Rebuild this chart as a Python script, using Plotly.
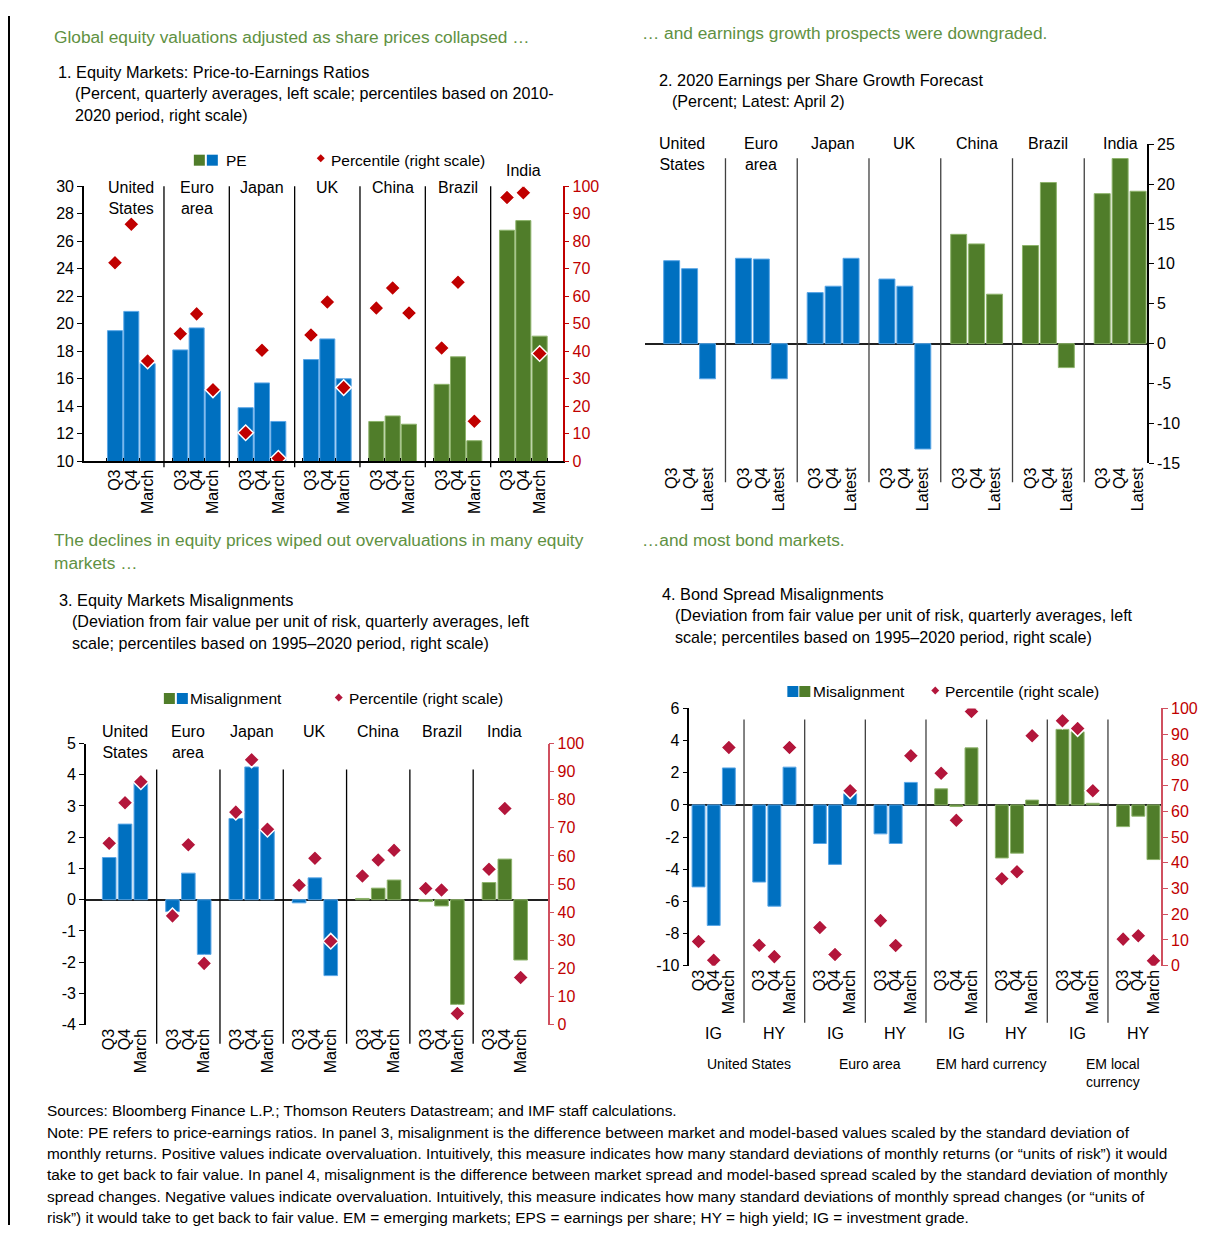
import plotly.graph_objects as go

W, H = 1218, 1242
# the page body keeps its default 8px margin, so the figure is drawn 16px smaller
FW, FH = W - 16, H - 16
# the captured page comes out slightly squeezed vertically; compensate
VS = 0.9856

BLUE = "#0070C0"
GREEN = "#507D2A"
RED = "#C00000"
CRIMSON = "#B3163B"
HEAD_GREEN = "#5F9142"
FONT = "Liberation Sans, Arial, sans-serif"

# ---- data -------------------------------------------------------------
equity_markets = ["United States", "Euro area", "Japan", "UK", "China", "Brazil", "India"]
equity_labels = ["United<br>States", "Euro<br>area", "Japan", "UK", "China", "Brazil", "India"]
emerging = ["China", "Brazil", "India"]
quarters = ["Q3", "Q4", "March"]
eps_quarters = ["Q3", "Q4", "Latest"]

# panel 1: PE ratio (left) and percentile (right)
pe_ratio = [19.5, 20.9, 17.1, 18.1, 19.7, 15.2, 13.9, 15.7, 12.9, 17.4, 18.9, 16.0,
            12.9, 13.3, 12.7, 15.6, 17.6, 11.5, 26.8, 27.5, 19.1]
pe_percentile = [72.2, 86.2, 36.5, 46.4, 53.6, 26.0, 10.4, 40.4, 1.1, 45.9, 57.9, 26.8,
                 55.7, 63.0, 53.9, 41.2, 65.1, 14.6, 95.9, 97.6, 39.2]

# panel 2: 2020 EPS growth forecast
eps_growth = [10.4, 9.4, -4.4, 10.7, 10.6, -4.4, 6.4, 7.2, 10.7, 8.1, 7.2, -13.2,
              13.7, 12.5, 6.2, 12.3, 20.2, -3.0, 18.8, 23.2, 19.1]

# panel 3: equity misalignment
equity_misalignment = [1.35, 2.42, 3.8, -0.38, 0.85, -1.75, 2.6, 4.25, 2.2, -0.1, 0.7, -2.43,
                       0.04, 0.37, 0.63, -0.06, -0.2, -3.35, 0.55, 1.3, -1.93]
equity_percentile = [64.5, 78.9, 86.4, 38.7, 64.0, 21.8, 75.6, 94.2, 69.5, 49.6, 59.2, 29.7,
                     52.9, 58.6, 62.0, 48.4, 47.9, 4.0, 55.3, 76.9, 16.8]

# panel 4: bond spread misalignment
bond_markets = ["United States", "Euro area", "EM hard currency", "EM local currency"]
bond_market_labels = ["United States", "Euro area", "EM hard currency", "EM local<br>currency"]
bond_segments = ["IG", "HY"]
bond_misalignment = [-5.1, -7.5, 2.3, -4.8, -6.3, 2.35, -2.4, -3.7, 0.7, -1.8, -2.4, 1.4,
                     1.0, -0.1, 3.55, -3.3, -3.0, 0.3, 4.7, 4.55, 0.1, -1.35, -0.7, -3.4]
bond_percentile = [9.4, 2.1, 84.8, 7.9, 3.5, 84.8, 14.8, 4.3, 68.0, 17.5, 7.8, 81.6,
                   74.8, 56.5, 98.8, 33.8, 36.5, 89.4, 95.2, 92.2, 68.0, 10.3, 11.6, 1.9]

# left-scale tick values (labels use a plain hyphen for negatives)
eps_ticks = [-15, -10, -5, 0, 5, 10, 15, 20, 25]
eq_mis_ticks = [-4, -3, -2, -1, 0, 1, 2, 3, 4, 5]
bond_ticks = [-10, -8, -6, -4, -2, 0, 2, 4, 6]

notes = [
    "Sources: Bloomberg Finance L.P.; Thomson Reuters Datastream; and IMF staff calculations.",
    "Note: PE refers to price-earnings ratios. In panel 3, misalignment is the difference between market and model-based values scaled by the standard deviation of",
    "monthly returns. Positive values indicate overvaluation. Intuitively, this measure indicates how many standard deviations of monthly returns (or \u201cunits of risk\u201d) it would",
    "take to get back to fair value. In panel 4, misalignment is the difference between market spread and model-based spread scaled by the standard deviation of monthly",
    "spread changes. Negative values indicate overvaluation. Intuitively, this measure indicates how many standard deviations of monthly spread changes (or \u201cunits of",
    "risk\u201d) it would take to get back to fair value. EM = emerging markets; EPS = earnings per share; HY = high yield; IG = investment grade.",
]


def px(x):
    return (x - 8) / FW


def py(y):
    return 1 - ((y - 8) / VS - 8) / FH


def build_axis(groups, periods):
    cats, bars, ticks, gaps, mids = [], [], [], [], []
    for i, g in enumerate(groups):
        for p in periods:
            cats.append(f"{g}|{p}")
            bars.append(f"{g}|{p}")
            ticks.append(p)
        mids.append(len(cats) - 2)
        if i < len(groups) - 1:
            cats.append(f"{g}|gap")
            gaps.append(len(cats) - 1)
    return cats, bars, ticks, gaps, mids


eq_cats, eq_bars, eq_ticks, eq_gaps, eq_mids = build_axis(equity_markets, quarters)
eps_cats, eps_bars, eps_ticks_x, eps_gaps, eps_mids = build_axis(equity_markets, eps_quarters)
bond_groups = [f"{m}|{s}" for m in bond_markets for s in bond_segments]
bd_cats, bd_bars, bd_ticks, bd_gaps, bd_mids = build_axis(bond_groups, quarters)

eq_colors = [GREEN if m in emerging else BLUE for m in equity_markets for _ in quarters]
bd_colors = [GREEN if m.startswith("EM") else BLUE for m in bond_markets
             for _ in bond_segments for _ in quarters]


def edge(colors):
    return ["#8DB36B" if c == GREEN else "#5AA6E6" for c in colors]


fig = go.Figure()

# panel 1
fig.add_trace(go.Bar(x=eq_bars, y=pe_ratio, marker=dict(color=eq_colors, line=dict(color=edge(eq_colors), width=1)),
                     width=0.92, xaxis="x", yaxis="y"))
fig.add_trace(go.Scatter(x=eq_bars, y=pe_percentile, mode="markers", xaxis="x", yaxis="y2",
                         marker=dict(symbol="diamond", size=12, color=RED, line=dict(color="white", width=1.5))))
# panel 2
fig.add_trace(go.Bar(x=eps_bars, y=eps_growth, marker=dict(color=eq_colors, line=dict(color=edge(eq_colors), width=1)),
                     width=0.89, xaxis="x2", yaxis="y3"))
# panel 3
fig.add_trace(go.Bar(x=eq_bars, y=equity_misalignment, marker=dict(color=eq_colors, line=dict(color=edge(eq_colors), width=1)),
                     width=0.86, xaxis="x3", yaxis="y4"))
fig.add_trace(go.Scatter(x=eq_bars, y=equity_percentile, mode="markers", xaxis="x3", yaxis="y5",
                         marker=dict(symbol="diamond", size=12, color=CRIMSON, line=dict(color="white", width=1.5))))
# panel 4
fig.add_trace(go.Bar(x=bd_bars, y=bond_misalignment, marker=dict(color=bd_colors, line=dict(color=edge(bd_colors), width=1)),
                     width=0.85, xaxis="x4", yaxis="y6"))
fig.add_trace(go.Scatter(x=bd_bars, y=bond_percentile, mode="markers", xaxis="x4", yaxis="y7",
                         marker=dict(symbol="diamond", size=12, color=CRIMSON, line=dict(color="white", width=1.5))))


def cat_axis(domain, anchor, cats, bars, ticks, rng, line=False):
    d = dict(domain=domain, anchor=anchor, type="category", categoryorder="array",
             categoryarray=cats, range=rng, tickmode="array", tickvals=bars, ticktext=ticks,
             tickangle=-90, showgrid=False, zeroline=False, showline=line, linecolor="black",
             linewidth=1.5, ticks="", tickfont=dict(size=16, color="black"), fixedrange=True)
    if line:
        d.update(ticks="inside", tickson="boundaries", ticklen=4, tickcolor="black")
    return d


def val_axis(anchor, rng, dtick, domain=None, side="left", color="black", label_color=None,
             overlay=None, zero=False, tickvals=None):
    d = dict(anchor=anchor, range=rng, dtick=dtick, side=side, showgrid=False, zeroline=zero,
             zerolinecolor="#202020", zerolinewidth=1.8, showline=True, linecolor=color,
             linewidth=1.5, ticks="outside", ticklen=5, tickcolor=color,
             tickfont=dict(size=16, color=label_color or color))
    if tickvals is not None:
        d.update(tickmode="array", tickvals=tickvals, ticktext=[str(v) for v in tickvals])
    if overlay:
        d["overlaying"] = overlay
    else:
        d["domain"] = domain
    return d


p1y = [py(461), py(186)]
p2y = [py(463), py(144)]
p3y = [py(1024), py(743)]
p4y = [py(965), py(708)]

fig.update_layout(
    xaxis=cat_axis([px(84), px(563)], "y", eq_cats, eq_bars, eq_ticks, [-1.9, 27.4], line=True),
    yaxis=val_axis("x", [10, 30], 2, domain=p1y),
    yaxis2=val_axis("x", [0, 100], 10, side="right", color=RED, overlay="y"),
    xaxis2=cat_axis([px(646), px(1148)], "y3", eps_cats, eps_bars, eps_ticks_x, [-1.46, 26.5]),
    yaxis3=val_axis("x2", [-15, 25], 5, domain=p2y, side="right", zero=True, tickvals=eps_ticks),
    xaxis3=cat_axis([px(86), px(548)], "y4", eq_cats, eq_bars, eq_ticks, [-1.47, 27.7]),
    yaxis4=val_axis("x3", [-4, 5], 1, domain=p3y, zero=True, tickvals=eq_mis_ticks),
    yaxis5=val_axis("x3", [0, 100], 10, side="right", color="#D0505F", label_color=RED, overlay="y4"),
    xaxis4=cat_axis([px(690), px(1162)], "y6", bd_cats, bd_bars, bd_ticks, [-0.6, 30.5]),
    yaxis6=val_axis("x4", [-10, 6], 2, domain=p4y, zero=True, tickvals=bond_ticks),
    yaxis7=val_axis("x4", [0, 100], 10, side="right", color="#D0505F", label_color=RED, overlay="y6"),
)

shapes = []
annotations = []


def text(x, y, s, size=16.3, color="black", xanchor="left", yanchor="middle", xref="paper"):
    annotations.append(dict(x=x, y=y, xref=xref, yref="paper", text=s, showarrow=False,
                            xanchor=xanchor, yanchor=yanchor, align="center" if xanchor == "center" else "left",
                            font=dict(size=size, color=color, family=FONT)))


def separators(xref, gaps, top, bottom, color="black"):
    for g in gaps:
        shapes.append(dict(type="line", xref=xref, yref="paper", x0=g, x1=g, y0=py(bottom), y1=py(top),
                           line=dict(color=color, width=1.3)))


separators("x", eq_gaps, 186, 467)
separators("x2", eps_gaps, 158, 482, "#404040")
separators("x3", eq_gaps, 769, 1043)
separators("x4", bd_gaps, 719, 1022, "#404040")

# group labels
for i, lab in enumerate(equity_labels):
    top = 160 if equity_markets[i] == "India" else 177
    text(eq_mids[i], py(top), lab, 16, xanchor="center", yanchor="top", xref="x")
    text(eps_mids[i] - (0.4 if i == 0 else 0), py(133), lab, 16, xanchor="center", yanchor="top", xref="x2")
    text(eq_mids[i], py(721), lab, 16, xanchor="center", yanchor="top", xref="x3")

for i, grp in enumerate(bond_groups):
    text(bd_mids[i], py(1033), grp.split("|")[1], 16, xanchor="center", xref="x4")
for i, lab in enumerate(bond_market_labels):
    text(bd_gaps[2 * i] + 0.3, py(1053), lab, 14, xanchor="center", yanchor="top", xref="x4")


# legends
def square(x, y, color, size=11):
    shapes.append(dict(type="rect", xref="paper", yref="paper", x0=px(x), x1=px(x + size),
                       y0=py(y + size / 2), y1=py(y - size / 2), fillcolor=color, line=dict(width=0)))


def diamond(x, y, color, r=4):
    path = f"M {px(x)} {py(y - r)} L {px(x + r)} {py(y)} L {px(x)} {py(y + r)} L {px(x - r)} {py(y)} Z"
    shapes.append(dict(type="path", xref="paper", yref="paper", path=path, fillcolor=color, line=dict(width=0)))


square(194, 160, GREEN)
square(207, 160, BLUE)
text(px(224), py(160), "PE", 15.5)
diamond(321, 158, RED)
text(px(329), py(160), "Percentile (right scale)", 15.5)

square(164, 698, GREEN)
square(177, 698, BLUE)
text(px(188), py(698), "Misalignment", 15.5)
diamond(339, 697, CRIMSON)
text(px(347), py(698), "Percentile (right scale)", 15.5)

square(788, 691, BLUE)
square(800, 691, GREEN)
text(px(812), py(691), "Misalignment", 15.5)
diamond(936, 690, CRIMSON)
text(px(944), py(691), "Percentile (right scale)", 15.5)

# headlines and titles
HS = 17.3
text(px(52), py(37), "Global equity valuations adjusted as share prices collapsed \u2026", HS, HEAD_GREEN)
text(px(56), py(72), "1. Equity Markets: Price-to-Earnings Ratios")
text(px(73), py(93), "(Percent, quarterly averages, left scale; percentiles based on 2010-", 16.1)
text(px(73), py(115), "2020 period, right scale)", 16.1)

text(px(641), py(33), "\u2026 and earnings growth prospects were downgraded.", HS, HEAD_GREEN)
text(px(658), py(80), "2. 2020 Earnings per Share Growth Forecast")
text(px(671), py(101), "(Percent; Latest: April 2)", 16.1)

text(px(52), py(540), "The declines in equity prices wiped out overvaluations in many equity", HS, HEAD_GREEN)
text(px(52), py(563), "markets \u2026", HS, HEAD_GREEN)
text(px(57), py(600), "3. Equity Markets Misalignments")
text(px(70), py(621), "(Deviation from fair value per unit of risk, quarterly averages, left", 16.1)
text(px(70), py(643), "scale; percentiles based on 1995\u20132020 period, right scale)", 16.1)

text(px(641), py(540), "\u2026and most bond markets.", HS, HEAD_GREEN)
text(px(661), py(594), "4. Bond Spread Misalignments")
text(px(674), py(615), "(Deviation from fair value per unit of risk, quarterly averages, left", 16.1)
text(px(674), py(637), "scale; percentiles based on 1995\u20132020 period, right scale)", 16.1)

for i, line in enumerate(notes):
    text(px(45), py(1110 + i * 21.4), line, 15.4)

# frame line on the left
shapes.append(dict(type="line", xref="paper", yref="paper", x0=px(9), x1=px(9), y0=0, y1=1,
                   line=dict(color="black", width=2)))

fig.update_layout(
    width=FW, height=FH, margin=dict(l=0, r=0, t=0, b=0),
    paper_bgcolor="white", plot_bgcolor="white", showlegend=False,
    font=dict(family=FONT, size=16, color="black"),
    shapes=shapes, annotations=annotations,
)

fig.write_html("out.html")
